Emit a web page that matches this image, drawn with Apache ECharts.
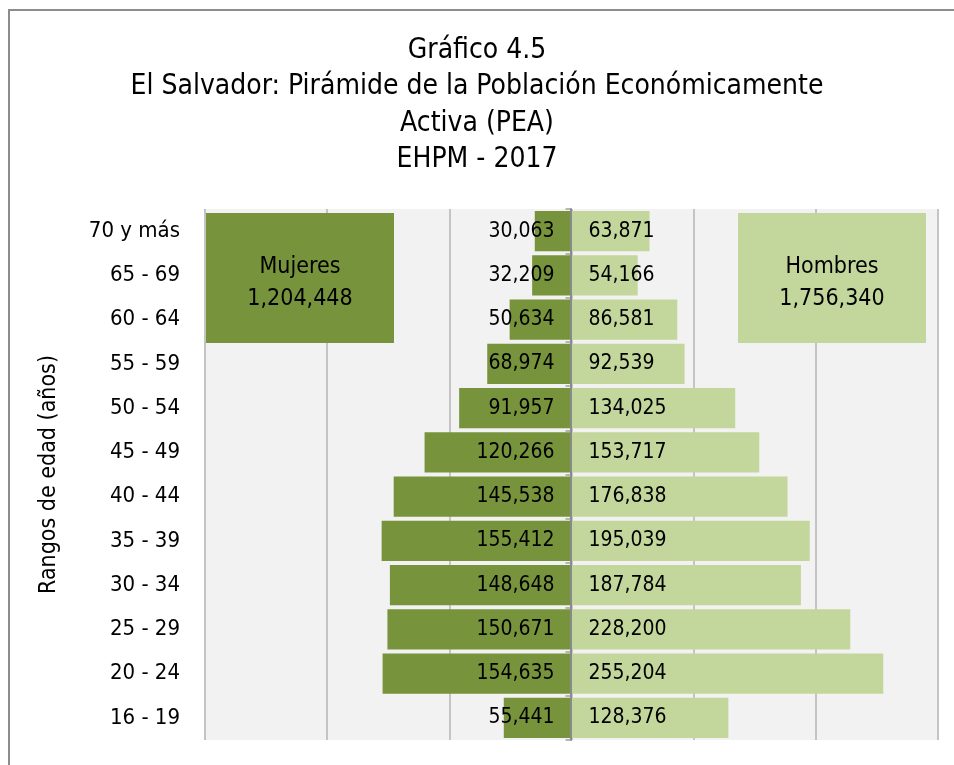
<!DOCTYPE html>
<html>
<head>
<meta charset="utf-8">
<script src="https://cdn.jsdelivr.net/npm/echarts@6/dist/echarts.min.js"></script>
<style>
  html, body { margin: 0; padding: 0; background: #fff; }
  #plot { width: 954px; height: 765px; }
</style>
</head>
<body>
<div id="plot"></div>
<script>
// rangos de edad, de abajo hacia arriba
const categories = ['16 - 19', '20 - 24', '25 - 29', '30 - 34', '35 - 39', '40 - 44',
    '45 - 49', '50 - 54', '55 - 59', '60 - 64', '65 - 69', '70 y más'];
const mujeres = [55441, 154635, 150671, 148648, 155412, 145538,
    120266, 91957, 68974, 50634, 32209, 30063];
const hombres = [128376, 255204, 228200, 187784, 195039, 176838,
    153717, 134025, 92539, 86581, 54166, 63871];
const totalMujeres = '1,204,448';
const totalHombres = '1,756,340';
const titleLines = ['Gráfico 4.5', 'El Salvador: Pirámide de la Población Económicamente',
    'Activa (PEA)', 'EHPM - 2017'];

const FONT = "'Liberation Sans Narrow', 'DejaVu Sans Condensed', 'Roboto', sans-serif";
const OSCURO = '#77933C';
const CLARO = '#C3D69B';

function fmt(v) {
    return Math.abs(v).toLocaleString('en-US');
}

let chart = echarts.init(document.getElementById('plot'));

let option = {
    backgroundColor: '#fff',
    animation: false,
    title: {
        text: titleLines.join('\n'),
        left: 'center',
        top: 27,
        textStyle: {
            fontFamily: FONT,
            fontSize: 28,
            fontWeight: 'normal',
            lineHeight: 36.5,
            color: '#000'
        }
    },
    grid: {
        left: 205,
        right: 16,
        top: 209,
        bottom: 25,
        show: true,
        backgroundColor: '#F2F2F2',
        borderWidth: 0
    },
    xAxis: {
        type: 'value',
        min: -300000,
        max: 300000,
        interval: 100000,
        axisLabel: { show: false },
        axisLine: { show: false },
        axisTick: { show: false },
        splitLine: { lineStyle: { color: '#C4C4C4', width: 2 } }
    },
    yAxis: [
        {
            type: 'category',
            data: categories,
            position: 'left',
            axisLine: { show: false },
            axisTick: { show: false },
            axisLabel: {
                fontFamily: FONT,
                fontSize: 22,
                color: '#000',
                margin: 25
            },
            name: 'Rangos de edad (años)',
            nameLocation: 'middle',
            nameGap: 144,
            nameRotate: 90,
            nameTextStyle: {
                fontFamily: FONT,
                fontSize: 23,
                color: '#000'
            }
        },
        {
            // eje central (en cero), movido con offset
            type: 'category',
            data: categories,
            position: 'left',
            offset: -365.5,
            z: 10,
            axisLine: { show: true, onZero: false, lineStyle: { color: '#8A8A8A', width: 2 } },
            axisTick: { show: true, length: 5, lineStyle: { color: '#A0A0A0', width: 1.5 } },
            axisLabel: { show: false }
        }
    ],
    series: [
        {
            name: 'Mujeres',
            type: 'bar',
            stack: 'pea',
            barCategoryGap: '9%',
            data: mujeres.map(v => -v),
            itemStyle: { color: OSCURO },
            label: {
                show: true,
                position: 'insideRight',
                distance: 17,
                fontFamily: FONT,
                fontSize: 21,
                color: '#000',
                formatter: p => fmt(p.value)
            }
        },
        {
            name: 'Hombres',
            type: 'bar',
            stack: 'pea',
            barCategoryGap: '9%',
            data: hombres,
            itemStyle: { color: CLARO },
            label: {
                show: true,
                position: 'insideLeft',
                distance: 17,
                fontFamily: FONT,
                fontSize: 21,
                color: '#000',
                formatter: p => fmt(p.value)
            }
        }
    ],
    graphic: [
        {
            type: 'rect',
            shape: { x: 9, y: 10, width: 1200, height: 1200 },
            style: { fill: 'none', stroke: '#8C8C8C', lineWidth: 2 },
            z: 1
        },
        {
            type: 'rect',
            z: 100,
            shape: { x: 206, y: 213, width: 188, height: 130 },
            style: { fill: OSCURO }
        },
        {
            type: 'text',
            z: 101,
            style: {
                text: 'Mujeres\n' + totalMujeres, x: 300, y: 251, align: 'center',
                font: '23px ' + FONT, lineHeight: 32, fill: '#000'
            }
        },
        {
            type: 'rect',
            z: 100,
            shape: { x: 738, y: 213, width: 188, height: 130 },
            style: { fill: CLARO }
        },
        {
            type: 'text',
            z: 101,
            style: {
                text: 'Hombres\n' + totalHombres, x: 832, y: 251, align: 'center',
                font: '23px ' + FONT, lineHeight: 32, fill: '#000'
            }
        }
    ]
};

chart.setOption(option);
</script>
</body>
</html>
